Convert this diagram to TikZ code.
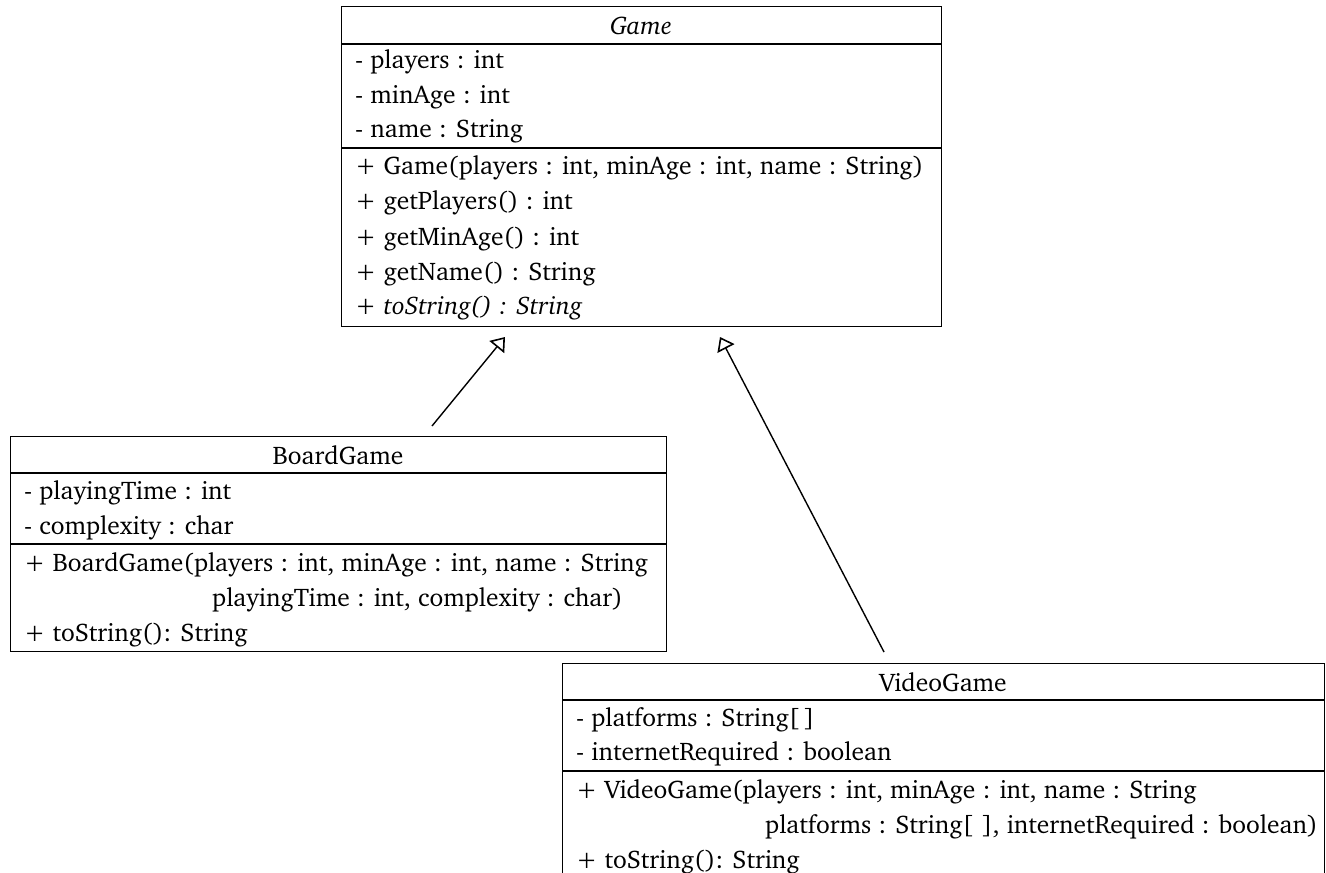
\documentclass[tikz,border=0pt]{standalone}
\usepackage[T1]{fontenc}
\usepackage{charter}
\usetikzlibrary{arrows.meta}
\begin{document}
\begin{tikzpicture}[x=1pt,y=-1pt,
  umlbox/.style={draw, line width=1.3pt, inner sep=0pt, anchor=north west},
  divider/.style={line width=1.3pt},
  mem/.style={anchor=base west, inner sep=0pt, font=\fontsize{25.5}{30}\selectfont},
  ttl/.style={anchor=base, inner sep=0pt, font=\fontsize{25.5}{30}\selectfont},
  inh/.style={line width=1.4pt, -{Triangle[open, length=13pt, width=19pt, line width=1.6pt]}}]
\clip (0,0) rectangle (1326,873);
% Game
\node[umlbox, minimum width=600pt, minimum height=320pt] (game) at (341,6) {};
\draw[divider] (341,44) -- (941,44);
\draw[divider] (341,148) -- (941,148);
\node[ttl] (gt) at (641,34) {\itshape Game};
\node[mem] (g1) at (355,68) {- players : int};
\node[mem] (g2) at (355,103) {- minAge : int};
\node[mem] (g3) at (355,137) {- name : String};
\node[mem] (g4) at (355,174) {+ Game(players : int, minAge : int, name : String)};
\node[mem] (g5) at (355,209) {+ getPlayers() : int};
\node[mem] (g6) at (355,245) {+ getMinAge() : int};
\node[mem] (g7) at (355,280) {+ getName() : String};
\node[mem] (g8) at (355,314) {\itshape + toString() : String};
% BoardGame
\node[umlbox, minimum width=656pt, minimum height=215pt] (bg) at (10,436) {};
\draw[divider] (10,473) -- (666,473);
\draw[divider] (10,544) -- (666,544);
\node[ttl] (bt) at (338,464) {BoardGame};
\node[mem] (b1) at (24,499) {- playingTime : int};
\node[mem] (b2) at (24,534) {- complexity : char};
\node[mem] (b3) at (24,571) {+ BoardGame(players : int, minAge : int, name : String};
\node[mem] (b4) at (212,606) {playingTime : int, complexity : char)};
\node[mem] (b5) at (24,641) {+ toString(): String};
% VideoGame
\node[umlbox, minimum width=762pt, minimum height=230pt] (vg) at (562,663) {};
\draw[divider] (562,700) -- (1324,700);
\draw[divider] (562,771) -- (1324,771);
\node[ttl] (vt) at (943,691) {VideoGame};
\node[mem] (v1) at (576,726) {- platforms : String[\,]};
\node[mem] (v2) at (576,760) {- internetRequired : boolean};
\node[mem] (v3) at (576,798) {+ VideoGame(players : int, minAge : int, name : String};
\node[mem] (v4) at (765,833) {platforms : String[\,\,], internetRequired : boolean)};
\node[mem] (v5) at (576,868) {+ toString(): String};
% inheritance
\coordinate (bgs) at (432,426);
\coordinate (gin1) at (505,337);
\coordinate (vgs) at (884,652);
\coordinate (gin2) at (720,337);
\draw[inh] (bgs) -- (gin1);
\draw[inh] (vgs) -- (gin2);
\end{tikzpicture}
\end{document}
